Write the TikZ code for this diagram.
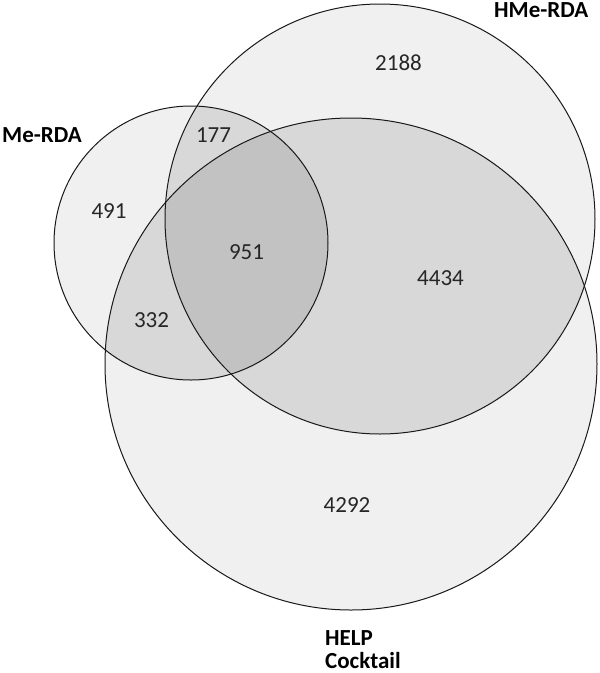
\documentclass[tikz,border=0pt]{standalone}
\usepackage{fontspec}
\setmainfont{Carlito}
\definecolor{one}{HTML}{F0F0F0}
\definecolor{two}{HTML}{D8D8D8}
\definecolor{three}{HTML}{C2C2C2}
\begin{document}
\begin{tikzpicture}[x=1pt,y=-1pt,
  num/.style={inner sep=0pt,font=\fontsize{23}{25}\selectfont,text=black!85},
  setlabel/.style={inner sep=0pt,anchor=base west,font=\fontsize{23}{25}\selectfont\bfseries},
  outline/.style={draw=black!90,line width=1pt}]
\useasboundingbox[fill=white] (0,0) rectangle (600,673);
% centres
\coordinate (cMe) at (191,243);
\coordinate (cHMe) at (380,219);
\coordinate (cHELP) at (351,364);
\def\rMe{137}
\def\rHMe{215}
\def\rHELP{246}
% single fills
\fill[one] (cMe) circle (\rMe);
\fill[one] (cHMe) circle (\rHMe);
\fill[one] (cHELP) circle (\rHELP);
% pairwise
\begin{scope}\clip (cMe) circle (\rMe); \fill[two] (cHMe) circle (\rHMe);\end{scope}
\begin{scope}\clip (cMe) circle (\rMe); \fill[two] (cHELP) circle (\rHELP);\end{scope}
\begin{scope}\clip (cHMe) circle (\rHMe); \fill[two] (cHELP) circle (\rHELP);\end{scope}
% triple
\begin{scope}\clip (cMe) circle (\rMe); \clip (cHMe) circle (\rHMe); \fill[three] (cHELP) circle (\rHELP);\end{scope}
% outlines
\draw[outline] (cMe) circle (\rMe);
\draw[outline] (cHMe) circle (\rHMe);
\draw[outline] (cHELP) circle (\rHELP);
% counts
\node[num] (n2188) at (398.5,62.5) {2188};
\node[num] (n177) at (213.5,135.5) {177};
\node[num] (n491) at (109,211) {491};
\node[num] (n951) at (246.5,252) {951};
\node[num] (n4434) at (440.5,278) {4434};
\node[num] (n332) at (151.5,320) {332};
\node[num] (n4292) at (347,505) {4292};
% set labels
\node[setlabel] (lMe) at (2,142) {Me-RDA};
\node[setlabel] (lHMe) at (494,17) {HMe-RDA};
\node[setlabel] (lHELP) at (325,645) {HELP};
\node[setlabel] (lCock) at (325,668) {Cocktail};
\end{tikzpicture}
\end{document}
